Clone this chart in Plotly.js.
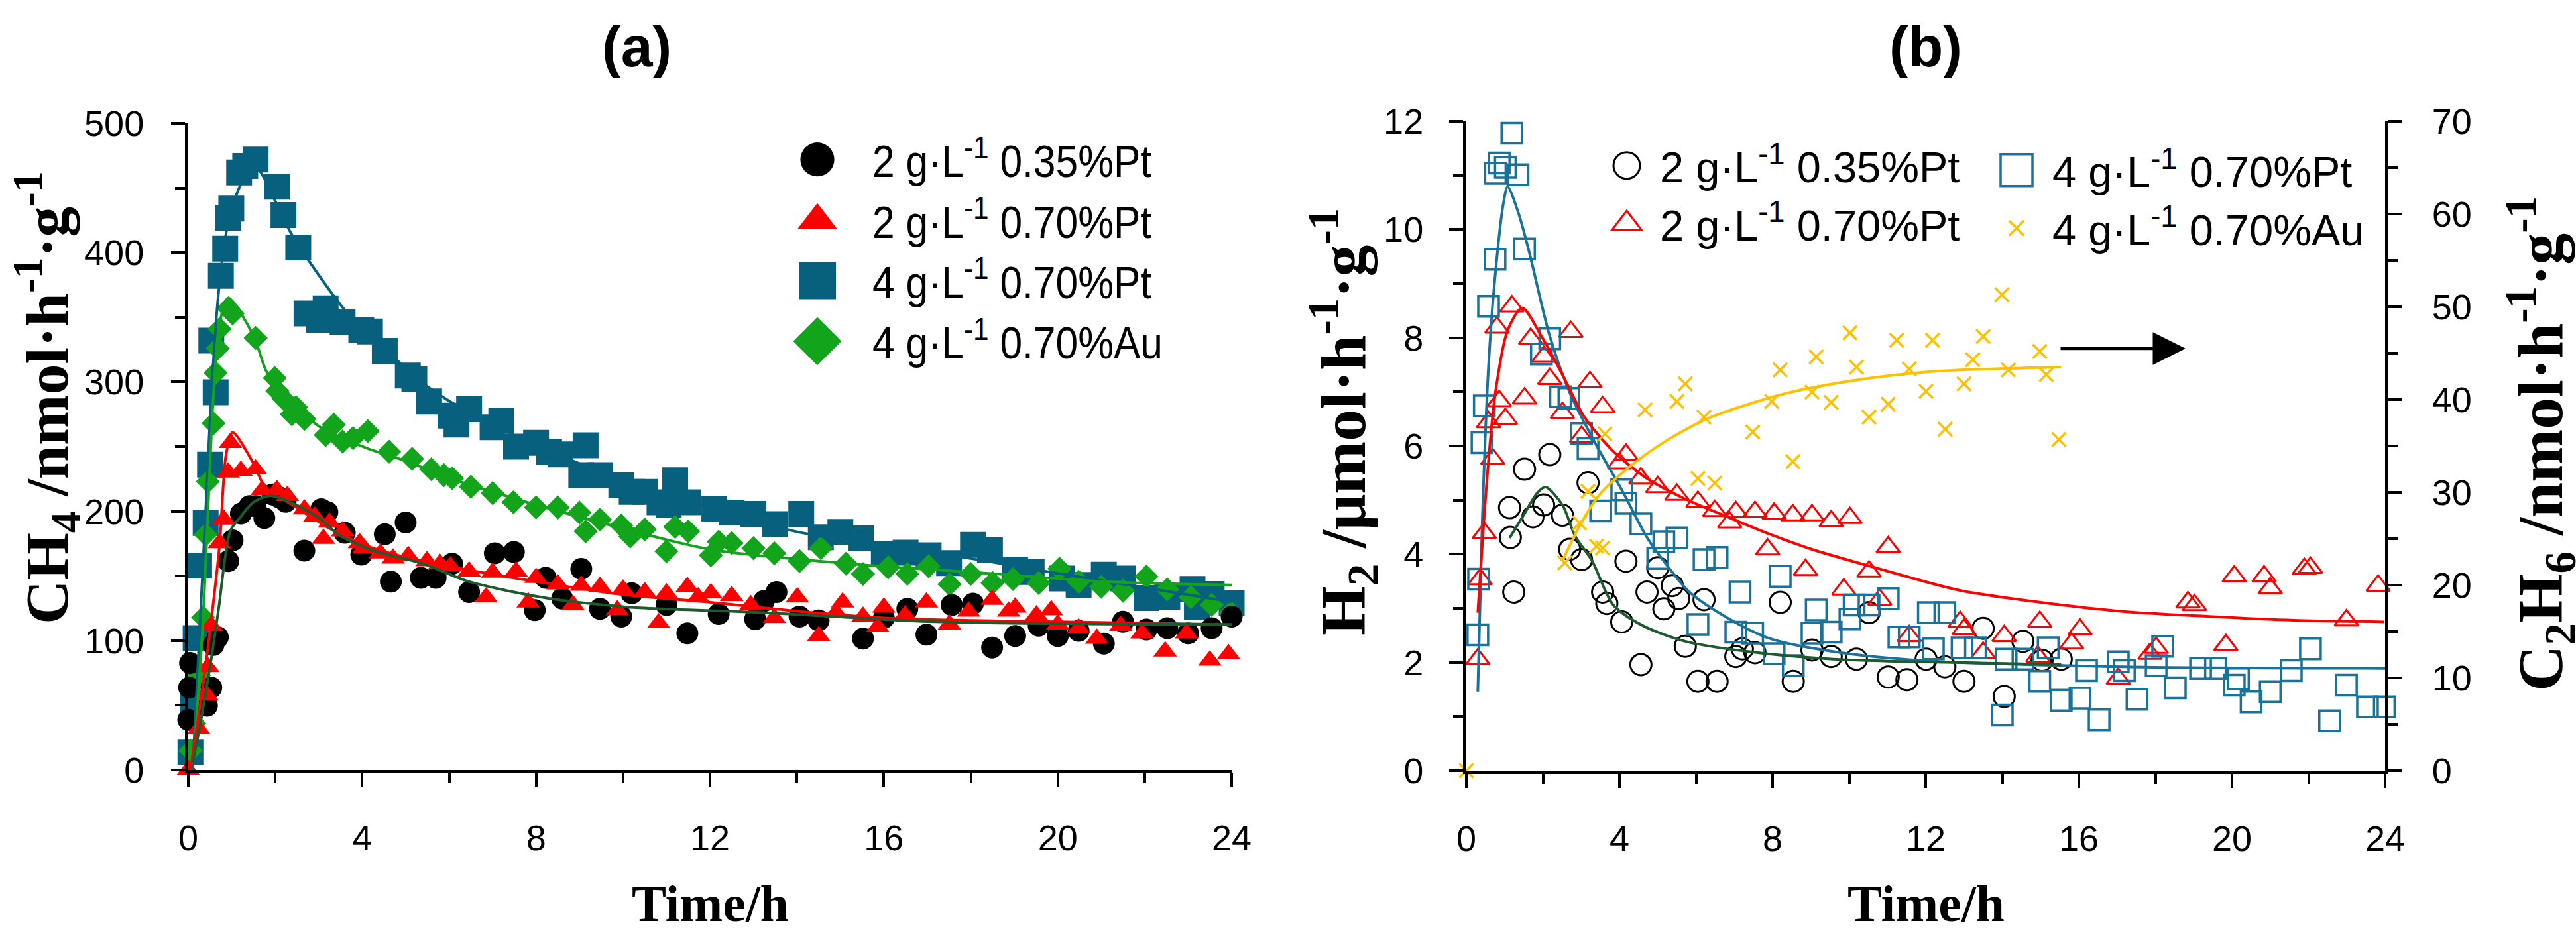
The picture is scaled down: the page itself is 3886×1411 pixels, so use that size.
<!DOCTYPE html>
<html><head><meta charset="utf-8">
<script src="https://cdn.plot.ly/plotly-3.0.1.min.js"></script>
<style>html,body{margin:0;padding:0;background:#fff;}</style>
</head><body>
<div id="chart" style="width:3886px;height:1411px;"></div>
<script>
// ---------- Panel (a): CH4 ----------
const seriesLabels = ['2 g·L<sup>-1</sup> 0.35%Pt', '2 g·L<sup>-1</sup> 0.70%Pt', '4 g·L<sup>-1</sup> 0.70%Pt', '4 g·L<sup>-1</sup> 0.70%Au'];
const timeTicks = [0, 4, 8, 12, 16, 20, 24];

const a_black_t = [0.0,0.02,0.04,0.43,0.53,0.58,0.68,0.92,1.02,1.21,1.41,1.55,1.75,1.94,2.09,2.24,2.67,3.06,3.2,3.6,3.98,4.52,4.66,5.0,5.35,5.69,6.07,6.46,7.05,7.49,7.97,8.22,8.6,9.04,9.47,9.96,10.2,11.0,11.48,12.2,13.04,13.24,13.53,14.06,14.5,15.52,16.0,16.54,16.98,17.56,18.05,18.49,19.02,19.56,20.0,20.48,21.06,21.5,22.04,22.52,23.0,23.54,24.0];
const a_black_v = [38.8,63.7,82.7,49.7,63.7,96.7,102.6,161.5,177.5,198.2,204,204,194.8,213,210.8,207.4,169.6,201.6,199.4,183.4,166.5,182.2,145.6,191.4,148.6,148.6,159.5,137.6,167.5,168.5,123.6,148.6,132.6,155.5,124.6,118.6,136.6,127.6,105.6,120.6,116.6,130.6,137.6,118.6,115.6,101.6,117.6,124.6,104.6,127.6,128.6,94.7,103.6,111.6,103.6,107.6,97.7,114.6,108.6,109.6,105.6,109.6,118.6];

const a_red_t = [0.0,0.24,0.43,0.45,0.53,0.72,0.82,0.92,0.97,1.21,1.55,1.70,2.04,2.28,2.67,2.91,3.11,3.25,3.55,3.94,4.04,4.42,4.71,5.06,5.49,5.79,6.03,6.46,6.85,7.0,7.54,7.82,8.0,8.5,8.85,9.04,9.47,9.87,10.0,10.5,10.82,11.0,11.48,11.73,12.02,12.5,12.94,13.48,14.01,14.5,14.9,15.05,15.52,15.86,16.0,16.49,16.98,17.51,17.95,18.49,18.87,19.02,19.51,19.85,20.0,20.48,20.9,21.45,21.94,22.47,22.96,23.5,23.93];
const a_red_v = [0,31.8,57.7,79.7,111.6,175.5,193.6,230,253,231.4,232.5,216.5,216.5,212,201.6,196,178.8,191.4,184.5,175.4,171.5,167.5,163.5,165.5,161.5,159.5,157.5,153.6,133.6,152.6,153.6,129.6,148.6,143.6,127.6,142.6,141.6,123.6,139.6,137.6,113.6,136.6,141.6,133.6,136.6,134.6,127.6,117.6,133.6,103.6,121.6,129.6,118.6,110.6,125.6,119.6,129.6,112.6,122.6,131.6,122.6,125.6,119.6,123.6,112.6,109.6,101.6,111.6,105.6,91.7,105.6,84.7,89.7];

const a_blue_t = [0.05,0.1,0.17,0.25,0.4,0.5,0.53,0.63,0.75,0.85,0.92,0.99,1.17,1.31,1.55,2.04,2.19,2.53,2.72,3.01,3.16,3.55,3.98,4.18,4.52,5.05,5.2,5.54,6.03,6.17,6.46,7.0,7.2,7.54,8.0,8.3,8.56,9.04,9.14,9.47,9.96,10.2,10.5,10.84,11.05,11.2,11.5,12.1,12.5,13.0,13.5,14.1,14.55,15.0,15.47,16.0,16.5,17.03,17.5,18.05,18.44,19.02,19.4,20.09,20.48,21.06,21.5,22.04,22.52,23.1,23.2,23.54,24.0];
const a_blue_v = [14,52,102,158,191,236,332,292,382,403,427,434,462,467,472,451,429,404,353,348,357,346,340,339,324,305,302,285,274,267,279,265,270,250,253,246,244,228,251,228,220,215,215,207,205,224,207,202,199,198,190,198,180,184,179,167,168,166,160,174,170,155,153,148,143,151,148,133,134,140,126,136,129];

const a_green_t = [0.05,0.14,0.24,0.34,0.4,0.45,0.58,0.63,0.68,0.72,0.92,1.02,1.55,1.99,2.05,2.19,2.38,2.48,2.67,3.16,3.35,3.55,3.79,4.13,4.62,5.15,5.59,5.88,6.07,6.5,7.0,7.48,8.0,8.5,9.0,9.14,9.47,9.96,10.17,10.5,11.0,11.2,11.5,12.02,12.2,12.5,13.0,13.48,14.06,14.55,15.13,15.52,16.1,16.54,17.03,17.51,18.0,18.5,18.97,19.56,20.04,20.48,21.0,21.5,22.04,22.52,23.06,23.54,23.98];
const a_green_v = [15,36,73,118,182,223,268,307,326,341,357,353,334,303,293,287,275,280.5,271.4,259,267,254,256.5,262,246,240.5,232.5,228,225.6,219,214,207,203,203,199,184.5,193.6,189,180.5,186,169,188,184.5,166,176.5,175.5,171.5,167.5,161.5,171.5,159.5,151.6,156.6,151.6,157.5,143.6,151.6,144.6,147.6,144.6,155.6,145.6,141.6,138.6,149.6,139.6,133.6,127.6,121.6];

// fitted curves
const a_fitBlack_t = [0.1,0.3,0.53,0.7,0.97,1.21,1.5,1.89,2.48,3.06,3.45,4.23,5.4,6.37,7.34,8.31,9.28,10.25,13.28,17.17,24];
const a_fitBlack_v = [5,40,86,125,185,196,207,212,205,193.6,182,170,159.5,146.6,138.6,132.6,128.6,125.6,121.6,114.6,112.6];
const a_fitRed_t = [0.05,0.34,0.53,0.72,0.87,1.02,1.5,1.8,2.28,3.25,4.13,5.0,5.98,8.0,10.0,12.02,14.06,16.0,18.05,20,23.8];
const a_fitRed_v = [0,66,116,174,244,261,237,216.5,207.4,186.8,173,164.5,157.5,145.6,135.6,129.6,122.6,117.6,115.6,114.6,112.6];
const a_fitBlue_t = [0.1,0.25,0.4,0.53,0.7,0.9,1.2,1.55,2.0,2.38,3.64,4.42,5.4,6.37,8.0,10.0,13.96,18.0,20.0,24.0];
const a_fitBlue_v = [0,100,200,290,370,420,452,466,440,414,354,329,299,278,251,224.5,184.5,163.5,152,130];
const a_fitGreen_t = [0.14,0.34,0.48,0.58,0.72,0.92,1.51,1.8,2.28,3.06,4.13,5.0,5.98,8.0,9.96,12.02,15.2,18.15,21.06,24];
const a_fitGreen_v = [16,116,221,290,345,365,335,308,287,264.5,248.5,239,226,205,187,170.5,159.5,152.6,145.6,143];

// ---------- Panel (b): H2 (left) and C2H6 (right) ----------
const b_black_t = [1.13,1.15,1.24,1.52,1.74,2.02,2.18,2.51,2.7,3.01,3.18,3.56,3.67,4.06,4.17,4.56,4.72,5.0,5.16,5.38,5.55,5.72,6.05,6.21,6.55,7.04,7.21,7.54,8.2,8.54,9.03,9.53,10.19,10.52,11.02,11.51,12.01,12.5,13.0,13.5,14.05,14.54,15.04,15.54];
const b_black_h2 = [4.86,4.31,3.30,5.57,4.69,4.91,5.84,4.72,4.09,3.90,5.32,3.30,3.09,2.75,3.87,1.96,3.30,3.75,2.99,3.42,3.18,2.30,1.65,3.16,1.65,2.11,2.25,2.18,3.11,1.65,2.23,2.11,2.06,2.92,1.73,1.68,2.06,1.92,1.65,2.63,1.37,2.39,2.04,2.06];

const b_red_t = [0.3,0.36,0.47,0.58,0.69,0.8,0.86,1.02,1.19,1.52,1.68,2.02,2.18,2.51,2.73,3.01,3.23,3.56,4.0,4.17,4.56,5.0,5.5,6.05,6.49,6.88,7.04,7.54,7.87,8.04,8.53,8.86,9.03,9.53,9.86,10.02,10.52,10.8,11.02,11.57,12.9,13.0,13.5,14.05,14.93,14.98,15.81,16.03,17.03,17.86,18.02,18.85,19.02,19.84,20.06,20.84,21.0,21.89,22.05,22.99,23.82,24.04];
const b_red_h2 = [2.06,3.54,4.39,6.44,5.76,8.19,6.83,6.5,8.58,6.88,7.98,7.65,7.24,6.61,8.11,6.17,7.18,6.72,5.68,5.84,5.40,5.24,5.1,4.97,4.8,4.59,4.78,4.78,4.09,4.75,4.72,3.71,4.72,4.61,3.35,4.67,3.68,3.16,4.13,2.49,2.75,2.61,2.18,2.49,2.11,2.75,2.35,2.61,1.7,2.16,2.27,3.11,3.06,2.32,3.59,3.59,3.37,3.73,3.75,2.78,3.42,3.06];

const b_blue_t = [0.3,0.32,0.41,0.47,0.58,0.75,0.76,0.86,1.02,1.19,1.35,1.52,1.96,2.18,2.46,2.68,3.01,3.18,3.51,4.06,4.17,4.56,5.0,5.16,5.5,6.05,6.21,6.55,7.04,7.15,7.48,8.04,8.2,8.54,9.03,9.14,9.53,10.02,10.13,10.52,11.02,11.3,11.57,12.07,12.2,12.5,12.95,13.3,14.0,14.1,14.54,14.98,15.2,15.54,16.03,16.2,16.53,17.03,17.19,17.52,18.02,18.19,18.52,19.18,19.57,20.06,20.17,20.5,21.0,21.55,22.05,22.55,22.99,23.54,23.98];
const b_blue_h2 = [2.51,3.54,6.06,6.74,8.58,9.45,11.04,11.23,11.15,11.78,11.01,9.64,7.70,7.98,6.91,6.88,6.23,5.95,4.80,5.19,4.94,4.56,3.92,4.23,4.30,2.70,3.90,3.94,2.56,3.30,2.54,2.16,3.59,1.94,2.54,2.97,2.56,2.80,3.06,3.06,3.18,2.47,2.47,2.92,2.25,2.92,2.27,2.27,1.03,2.06,2.06,1.65,2.27,1.3,1.34,1.85,0.94,2.01,1.85,1.32,1.94,2.3,1.53,1.89,1.89,1.58,1.7,1.27,1.46,1.85,2.25,0.92,1.58,1.18,1.18];

const b_yellow_t = [0.0,2.57,2.96,3.18,3.4,3.56,3.62,4.67,5.5,5.72,6.05,6.21,6.49,7.48,7.98,8.2,8.53,9.03,9.14,9.53,10.02,10.19,10.52,11.02,11.24,11.57,12.01,12.18,12.51,13.0,13.23,13.5,13.99,14.16,14.98,15.15,15.48];
const b_yellow_c2h6 = [0,22.4,26.7,30.1,24.2,24.0,36.3,38.9,39.8,41.7,31.5,38.1,31.0,36.5,39.8,43.2,33.3,40.8,44.6,39.7,47.2,43.5,38.1,39.5,46.4,43.3,40.9,46.4,36.8,41.7,44.3,46.8,51.3,43.2,45.2,42.7,35.7];

// fitted curves
const b_fitBlack_t = [1.13,1.52,1.85,2.07,2.51,2.84,3.29,3.84,4.61,5.72,7.37,9.58,11.79,15.54];
const b_fitBlack_v = [4.3,4.75,5.13,5.24,4.91,4.34,3.87,3.06,2.68,2.39,2.2,2.06,2.01,1.96];
const b_fitRed_t = [0.3,0.53,0.75,1.08,1.46,1.96,2.51,3.07,3.84,4.72,5.72,6.82,7.93,9.03,10.69,12.9,15.0,17.19,19.4,21.61,23.98];
const b_fitRed_v = [2.92,5.3,6.94,8.14,8.55,8.03,7.32,6.55,5.9,5.4,5.02,4.69,4.37,4.09,3.75,3.33,3.11,2.94,2.85,2.78,2.75];
const b_fitBlue_t = [0.3,0.41,0.58,0.75,0.97,1.08,1.35,1.63,2.18,2.73,3.4,4.06,4.72,5.16,5.83,6.83,7.93,9.58,11.79,17.2,24];
const b_fitBlue_v = [1.46,4.48,7.48,9.12,10.49,10.79,10.33,9.62,8.03,6.94,6.01,5.19,4.31,3.87,3.30,2.82,2.44,2.2,2.04,1.92,1.89];
const b_fitYellow_t = [2.51,2.96,3.51,4.28,5.16,6.27,7.37,8.48,9.58,10.69,11.79,12.9,15.54];
const b_fitYellow_v = [22.6,26.4,29.9,32.8,35.4,37.9,39.5,40.8,41.7,42.4,42.9,43.2,43.5];

// ---------- styling ----------
const C_BLACK = '#000000', C_RED = '#ff0000', C_BLUE_A = '#08607f', C_BLUE_B = '#19729a',
      C_GREEN = '#12a51c', C_DKGREEN = '#1d5a2e', C_YELLOW = '#ffc000';
const LEGFONT = 'Liberation Sans, Arial, sans-serif';

function pts(x, y, xa, ya, name, legend, rank, marker, legendScale) {
  return {type:'scatter', mode:'markers', x:x, y:y, xaxis:xa, yaxis:ya, name:name,
          legend:legend, legendrank:rank, marker:marker, cliponaxis:false, meta:legendScale,
          hoverinfo:'skip'};
}
function fit(x, y, xa, ya, color, w) {
  return {type:'scatter', mode:'lines', x:x, y:y, xaxis:xa, yaxis:ya, showlegend:false,
          line:{color:color, width:w, shape:'spline', smoothing:0.8}, cliponaxis:false, hoverinfo:'skip'};
}

const traces = [
  pts(a_blue_t, a_blue_v, 'x', 'y', seriesLabels[2], 'legend', 3, {symbol:'square', size:39, color:C_BLUE_A, line:{width:0}}, 3.5),
  pts(a_green_t, a_green_v, 'x', 'y', seriesLabels[3], 'legend', 4, {symbol:'diamond', size:28, color:C_GREEN, line:{width:0}}, 3.5),
  pts(a_black_t, a_black_v, 'x', 'y', seriesLabels[0], 'legend', 1, {symbol:'circle', size:33, color:C_BLACK, line:{width:0}}, 3.2),
  pts(a_red_t, a_red_v, 'x', 'y', seriesLabels[1], 'legend', 2, {symbol:'triangle-up', size:31, color:C_RED, line:{width:0}}, 3.2),
  fit(a_fitBlue_t, a_fitBlue_v, 'x', 'y', C_BLUE_A, 4),
  fit(a_fitGreen_t, a_fitGreen_v, 'x', 'y', C_GREEN, 4),
  fit(a_fitRed_t, a_fitRed_v, 'x', 'y', C_RED, 4),
  fit(a_fitBlack_t, a_fitBlack_v, 'x', 'y', C_DKGREEN, 4),

  pts(b_black_t, b_black_h2, 'x2', 'y2', seriesLabels[0], 'legend2', 1, {symbol:'circle-open', size:32, color:C_BLACK, line:{width:3, color:C_BLACK}}, 2.5),
  pts(b_red_t, b_red_h2, 'x2', 'y2', seriesLabels[1], 'legend2', 2, {symbol:'triangle-up-open', size:31, color:C_RED, line:{width:3, color:C_RED}}, 2.4),
  pts(b_blue_t, b_blue_h2, 'x2', 'y2', seriesLabels[2], 'legend3', 1, {symbol:'square-open', size:31, color:C_BLUE_B, line:{width:3.5, color:C_BLUE_B}}, 3.0),
  pts(b_yellow_t, b_yellow_c2h6, 'x2', 'y3', seriesLabels[3], 'legend3', 2, {symbol:'x-thin-open', size:21, color:C_YELLOW, line:{width:3.5, color:C_YELLOW}}, 1.4),
  fit(b_fitBlue_t, b_fitBlue_v, 'x2', 'y2', C_BLUE_B, 4),
  fit(b_fitRed_t, b_fitRed_v, 'x2', 'y2', C_RED, 4),
  fit(b_fitBlack_t, b_fitBlack_v, 'x2', 'y2', C_DKGREEN, 4),
  fit(b_fitYellow_t, b_fitYellow_v, 'x2', 'y3', C_YELLOW, 4)
];

const TICKFONT = {family:'Liberation Sans, Arial, sans-serif', size:54, color:'#000'};
function axisBase(extra) {
  const base = {ticks:'outside', ticklen:21, tickwidth:4, tickcolor:'#000', showline:true, linewidth:5,
    linecolor:'#000', showgrid:false, zeroline:false, tickfont:TICKFONT, fixedrange:true};
  return Object.assign(base, extra);
}
const W = 3886, H = 1411;
const px = v => v / W, py = v => 1 - v / H;
const minorTicks = d => ({dtick:d, tick0:0, ticks:'outside', ticklen:15, tickwidth:4, tickcolor:'#000', showgrid:false});
const SERIF = 'Liberation Serif, Times New Roman, serif';

const layout = {
  width:W, height:H, margin:{l:0, r:0, t:0, b:0}, paper_bgcolor:'#fff', plot_bgcolor:'rgba(0,0,0,0)',
  showlegend:true,
  xaxis: axisBase({domain:[px(284), px(1858)], anchor:'y', range:[0,24], tickvals:timeTicks, ticklabelstandoff:30, minor:minorTicks(2)}),
  yaxis: axisBase({domain:[py(1162), py(186)], anchor:'x', range:[0,500], dtick:100, tick0:0, ticklabelstandoff:30, minor:minorTicks(50)}),
  xaxis2: axisBase({domain:[px(2212), px(3598)], anchor:'y2', range:[0,24], tickvals:timeTicks, ticklabelstandoff:30, minor:minorTicks(2)}),
  yaxis2: axisBase({domain:[py(1163), py(183)], anchor:'x2', range:[0,12], dtick:2, tick0:0, ticklabelstandoff:28, minor:minorTicks(1)}),
  yaxis3: axisBase({anchor:'x2', overlaying:'y2', side:'right', range:[0,70], dtick:10, tick0:0, ticklabelstandoff:34, minor:minorTicks(5)}),
  legend: {x:px(1150), y:py(190), xanchor:'left', yanchor:'top', bgcolor:'rgba(0,0,0,0)', borderwidth:0,
    itemwidth:156, font:{family:LEGFONT, size:68, color:'#000'}, traceorder:'normal'},
  legend2: {x:px(2404), y:py(201), xanchor:'left', yanchor:'top', bgcolor:'rgba(0,0,0,0)', borderwidth:0,
    itemwidth:90, font:{family:LEGFONT, size:65, color:'#000'}, traceorder:'normal'},
  legend3: {x:px(2988), y:py(208), xanchor:'left', yanchor:'top', bgcolor:'rgba(0,0,0,0)', borderwidth:0,
    itemwidth:98, font:{family:LEGFONT, size:65, color:'#000'}, traceorder:'normal'},
  annotations: [
    {text:'<b>(a)</b>', xref:'paper', yref:'paper', x:px(960), y:py(70), xanchor:'center', yanchor:'middle', showarrow:false,
      font:{family:'Liberation Sans, Arial, sans-serif', size:86, color:'#000'}},
    {text:'<b>(b)</b>', xref:'paper', yref:'paper', x:px(2905), y:py(70), xanchor:'center', yanchor:'middle', showarrow:false,
      font:{family:'Liberation Sans, Arial, sans-serif', size:86, color:'#000'}},
    {text:'<b>Time/h</b>', xref:'paper', yref:'paper', x:px(1071), y:py(1363), xanchor:'center', yanchor:'middle', showarrow:false,
      font:{family:SERIF, size:78, color:'#000'}},
    {text:'<b>Time/h</b>', xref:'paper', yref:'paper', x:px(2905), y:py(1363), xanchor:'center', yanchor:'middle', showarrow:false,
      font:{family:SERIF, size:78, color:'#000'}},
    {text:'<b>CH<sub>4</sub> /nmol·h<sup>-1</sup>·g<sup>-1</sup></b>', xref:'paper', yref:'paper', x:px(70), y:py(600), textangle:-90,
      xanchor:'center', yanchor:'middle', showarrow:false, font:{family:SERIF, size:92, color:'#000'}},
    {text:'<b>H<sub>2</sub> /μmol·h<sup>-1</sup>·g<sup>-1</sup></b>', xref:'paper', yref:'paper', x:px(2026), y:py(636), textangle:-90,
      xanchor:'center', yanchor:'middle', showarrow:false, font:{family:SERIF, size:96, color:'#000'}},
    {text:'<b>C<sub>2</sub>H<sub>6</sub> /nmol·h<sup>-1</sup>·g<sup>-1</sup></b>', xref:'paper', yref:'paper', x:px(3832), y:py(670), textangle:-90,
      xanchor:'center', yanchor:'middle', showarrow:false, font:{family:SERIF, size:96, color:'#000'}},
    {text:'', xref:'paper', yref:'paper', x:px(3297), y:py(526), ax:-190, ay:0, showarrow:true,
      arrowhead:2, arrowsize:2.2, arrowwidth:4.5, arrowcolor:'#000'}
  ]
};

// horizontal squeeze of legend text to match the reference's semi-condensed face
const legendSqueeze = {legend:0.89, legend2:0.94, legend3:0.94};

Plotly.newPlot('chart', traces, layout, {staticPlot:true, displayModeBar:false}).then(function(gd){
  gd.querySelectorAll('g.traces').forEach(function(g){
    var d = g.__data__;
    if (!d || !d[0] || !d[0].trace) return;
    var tr = d[0].trace;
    var k = tr.meta;
    if (typeof k === 'number') {
      g.querySelectorAll('path.scatterpts').forEach(function(p){
        var t = p.getAttribute('transform') || '';
        p.setAttribute('transform', t + ' scale(' + k + ')');
        p.style.vectorEffect = 'non-scaling-stroke';
      });
    }
    var s = legendSqueeze[tr.legend || 'legend'];
    if (s) {
      g.querySelectorAll('text.legendtext').forEach(function(te){
        var x0 = parseFloat(te.getAttribute('x')) || 0;
        te.setAttribute('transform', 'translate(' + (x0 * (1 - s)) + ',0) scale(' + s + ',1)');
      });
    }
  });
});
</script>
</body></html>
